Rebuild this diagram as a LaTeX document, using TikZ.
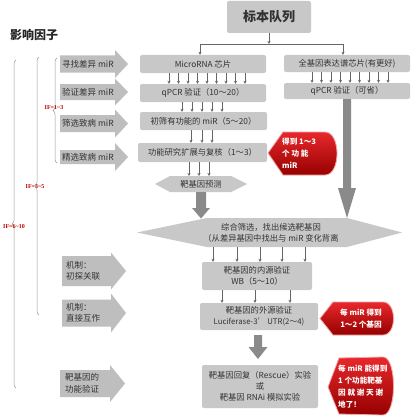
\documentclass[tikz,border=0pt]{standalone}
\usepackage{fontspec}
\setmainfont{Noto Sans CJK SC}
\newfontfamily\iffont{Liberation Serif}
\usetikzlibrary{decorations.pathreplacing,arrows.meta}
\definecolor{boxgray}{HTML}{C8C8C8}
\definecolor{argray}{HTML}{BEBEBE}
\definecolor{bigar}{HTML}{8A8A8A}
\definecolor{txt}{HTML}{333333}
\definecolor{redA}{HTML}{E8282C}
\definecolor{redB}{HTML}{960000}
\definecolor{redE}{HTML}{F2A5A5}
\definecolor{ifred}{HTML}{C00000}
\definecolor{bracegray}{HTML}{9A9A9A}
\definecolor{linegray}{HTML}{666666}
\newcommand\barrow[7]{% style, x0, xbody, xtip, yc, body half, head half
  \fill[#1] (#2,{#5-#6}) -- (#3,{#5-#6}) -- (#3,{#5-#7}) -- (#4,#5) -- (#3,{#5+#7}) -- (#3,{#5+#6}) -- (#2,{#5+#6}) -- cycle;}
\newcommand\varrow[7]{% style, xc, ytop, yhead, ytip, body half, head half
  \fill[#1] ({#2-#6},#3) -- ({#2+#6},#3) -- ({#2+#6},#4) -- ({#2+#7},#4) -- (#2,#5) -- ({#2-#7},#4) -- ({#2-#6},#4) -- cycle;}
\begin{document}
\begin{tikzpicture}[x=1pt,y=-1pt,
  box/.style={fill=boxgray, rounded corners=2pt, text=txt, font=\fontsize{8.3}{11}\selectfont, inner sep=0pt, align=center},
  ltext/.style={text=txt, font=\fontsize{8.5}{11.5}\selectfont, inner sep=0pt, align=left, anchor=west},
  ctext/.style={text=white, font=\fontsize{7.6}{12}\selectfont\bfseries, inner sep=0pt},
  sarr/.style={draw=linegray, line width=0.6pt, -{Stealth[length=3pt,width=3pt]}},
  thinline/.style={draw=linegray, line width=0.6pt},
  callout/.style={top color=redA, bottom color=redB, draw=redE, line width=0.8pt},
  bracestyle/.style={draw=bracegray, line width=0.5pt, decorate, decoration={brace, amplitude=4pt}},
  iflabel/.style={text=ifred, font=\iffont\fontsize{6}{6}\selectfont\bfseries, inner sep=0pt}]
\fill[white] (0,0) rectangle (420,420);
\useasboundingbox (0,0) rectangle (420,420);

% title
\node[text=black!85, font=\fontsize{12}{12}\selectfont\bfseries, inner sep=0pt] (title) at (34,35) {影响因子};

% braces
\draw[bracestyle] (57,163) -- (57,58);
\node[iflabel] (if1) at (54,108) {IF=1\textasciitilde3};
\draw[bracestyle] (39,315) -- (39,57);
\node[iflabel] (if2) at (35,187) {IF=3\textasciitilde5};
\draw[bracestyle] (16,388) -- (16,60);
\node[iflabel] (if3) at (14,227) {IF=6\textasciitilde10};

% left block arrows
\barrow{argray}{60}{115}{128}{64}{8.5}{14}
\node[ltext] (l1) at (62,64) {寻找差异 miR};
\barrow{argray}{60}{115}{128}{92}{8}{13.5}
\node[ltext] (l2) at (62,92) {验证差异 miR};
\barrow{argray}{60}{115}{128}{123.5}{8.5}{14}
\node[ltext] (l3) at (62,123.5) {筛选致病 miR};
\barrow{argray}{60}{115}{128}{157}{7}{14}
\node[ltext] (l4) at (62,157) {精选致病 miR};
\barrow{argray}{62}{111}{126}{271}{15}{18.5}
\node[ltext] (l5) at (66,271) {机制：\\初探关联};
\barrow{argray}{62}{111}{126}{313}{13.5}{19.5}
\node[ltext] (l6) at (66,313) {机制：\\直接互作};
\barrow{argray}{60}{110}{125}{383.5}{13.5}{18.5}
\node[ltext] (l7) at (65,383.5) {靶基因的\\功能验证};

% top box and split
\node[box, minimum width=84, minimum height=32, font=\fontsize{13}{13}\selectfont\bfseries] (top) at (269,17) {标本队列};
\coordinate (split) at (269,44);
\coordinate (jl) at (200,44);
\coordinate (jr) at (343,44);

% middle column
\node[box, minimum width=126, minimum height=18] (m1) at (203,64) {MicroRNA 芯片};
\node[box, minimum width=126, minimum height=18] (m2) at (203,93) {qPCR 验证（10～20）};
\node[box, minimum width=127, minimum height=18] (m3) at (203.5,121) {初筛有功能的 miR（5～20）};
\node[box, minimum width=129, minimum height=19] (m4) at (202.5,152.5) {功能研究扩展与复核（1～3）};

% right column
\node[box, minimum width=126, minimum height=17] (r1) at (347,63.5) {全基因表达谱芯片(有更好)};
\node[box, minimum width=126, minimum height=16] (r2) at (347,91) {qPCR 验证（可省）};

\draw[sarr] (top.south) -- (split);
\draw[thinline] (jl) -- (jr);
\draw[sarr] (jl) -- (jl |- m1.north);
\draw[sarr] (jr) -- (jr |- r1.north);

\foreach \x in {169,178.5,188,197.5,207,216.5,226,235.5,245}
  \draw[sarr] (\x,0 |- m1.south) -- (\x,0 |- m2.north);
\foreach \x in {182,192,202,212,222}
  \draw[sarr] (\x,0 |- m2.south) -- (\x,0 |- m3.north);
\foreach \x in {191,202,212}
  \draw[sarr] (\x,0 |- m3.south) -- (\x,0 |- m4.north);
\foreach \x in {312,321.5,331,340.5,350,359.5,369,378.5,388}
  \draw[sarr] (\x,0 |- r1.south) -- (\x,0 |- r2.north);

% target prediction hexagon
\fill[boxgray] (155,184) -- (170,176) -- (231,176) -- (247,184) -- (231,192) -- (170,192) -- cycle;
\node[text=txt, font=\fontsize{8.3}{11}\selectfont, inner sep=0pt] (pred) at (201,184) {靶基因预测};
\coordinate (predN) at (201,176);
\foreach \x in {189,199,209}
  \draw[sarr] (\x,0 |- m4.south) -- (\x,0 |- predN);

% comprehensive screening shape
\fill[boxgray] (137,232.5) -- (207,218) -- (347,218) -- (402,232.5) -- (347,247) -- (207,247) -- cycle;
\node[text=txt, font=\fontsize{8.3}{11}\selectfont, inner sep=0pt, align=center] (comb) at (271,232.5) {综合筛选，找出候选靶基因\\（从差异基因中找出与 miR 变化背离};
\coordinate (combS) at (271,247);

% big arrows
\varrow{bigar}{201}{192}{208}{218.5}{5}{9}
\varrow{bigar}{347}{99}{188}{218}{4}{9}

% lower middle
\node[box, minimum width=110, minimum height=28] (wb) at (257,276) {靶基因的内源验证\\WB（5～10）};
\node[box, minimum width=118, minimum height=27] (luc) at (259,316.5) {靶基因的外源验证\\{\fontsize{7.8}{11}\selectfont Luciferase-3’ UTR(2～4)}};
\node[box, minimum width=116, minimum height=43] (res) at (260,386.5) {靶基因回复（Rescue）实验\\或\\靶基因 RNAi 模拟实验};

\foreach \x in {213,237,260,282,305}
  \draw[sarr] (\x,0 |- combS) -- (\x,0 |- wb.north);
\foreach \x in {222,255,290}
  \draw[sarr] (\x,0 |- wb.south) -- (\x,0 |- luc.north);
\varrow{bigar}{258}{335}{347}{359}{4}{9.5}

% red callouts
\shade[callout] (268,153) -- (283,132) -- (325,132) .. controls (341,132) and (341,175) .. (325,175) -- (283,175) -- cycle;
\node[ctext, align=left, anchor=west] (c1) at (282,153) {得到 1～3\\个 功 能\\miR};
\shade[callout] (320,318.5) -- (333,302) -- (383,302) .. controls (397,302) and (397,335) .. (383,335) -- (333,335) -- cycle;
\node[ctext, align=center] (c2) at (361,318.5) {每 miR 得到\\1～2 个基因};
\shade[callout] (328,387) -- (339,358) -- (383,357) .. controls (397,357) and (397,415) .. (383,415) -- (339,414) -- cycle;
\node[ctext, align=left, anchor=west] (c3) at (338,386.5) {每 miR 能得到\\1 个功能靶基\\因 就 谢 天 谢\\地了！};
\end{tikzpicture}
\end{document}
